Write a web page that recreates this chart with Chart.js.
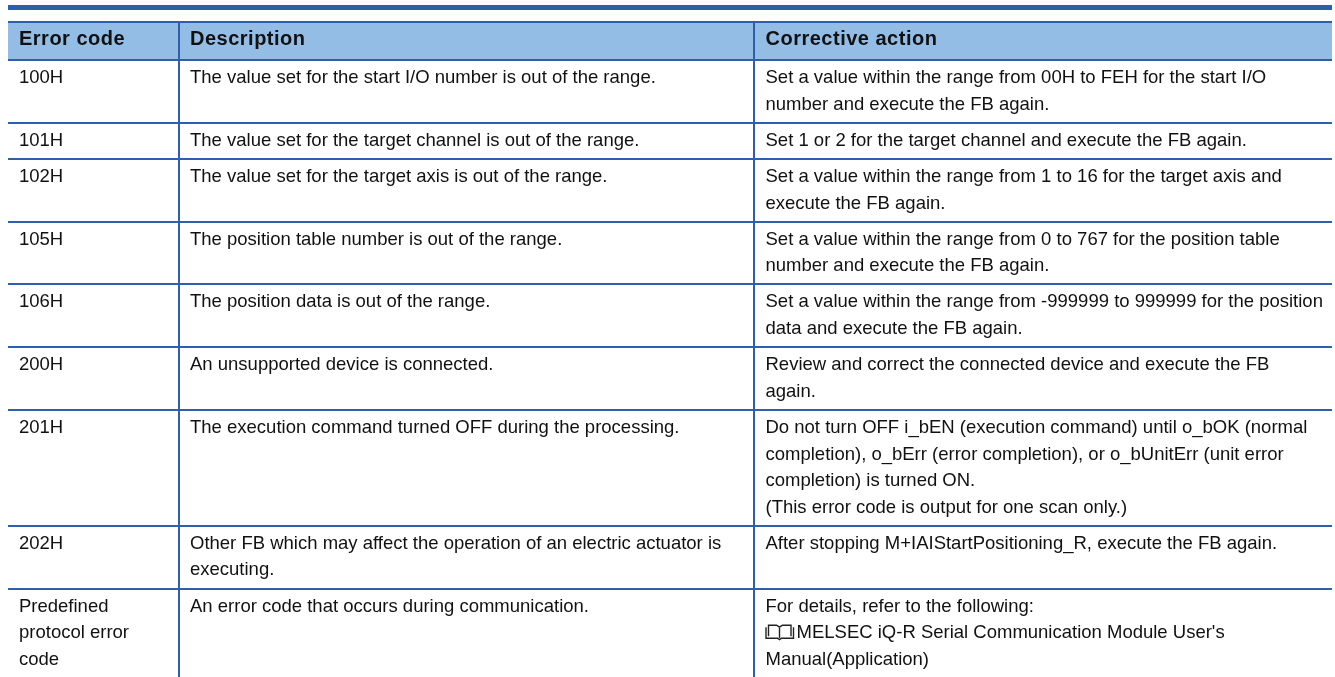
<!DOCTYPE html>
<html>
<head>
<meta charset="utf-8">
<title>Error codes</title>
<script src="https://cdn.jsdelivr.net/npm/chart.js@4/dist/chart.umd.min.js"></script>
<style>
  html, body { margin: 0; padding: 0; background: #fff; overflow: hidden; }
  canvas { display: block; }
</style>
</head>
<body>
<canvas id="errorTable" width="1335" height="677"></canvas>
<script>
// table content, one inner array per text line
const headers = ['Error code', 'Description', 'Corrective action'];
const errorCodes = [
    ['100H'], ['101H'], ['102H'], ['105H'], ['106H'], ['200H'], ['201H'], ['202H'],
    ['Predefined', 'protocol error', 'code']
];
const descriptions = [
    ['The value set for the start I/O number is out of the range.'],
    ['The value set for the target channel is out of the range.'],
    ['The value set for the target axis is out of the range.'],
    ['The position table number is out of the range.'],
    ['The position data is out of the range.'],
    ['An unsupported device is connected.'],
    ['The execution command turned OFF during the processing.'],
    ['Other FB which may affect the operation of an electric actuator is', 'executing.'],
    ['An error code that occurs during communication.']
];
const actions = [
    ['Set a value within the range from 00H to FEH for the start I/O', 'number and execute the FB again.'],
    ['Set 1 or 2 for the target channel and execute the FB again.'],
    ['Set a value within the range from 1 to 16 for the target axis and', 'execute the FB again.'],
    ['Set a value within the range from 0 to 767 for the position table', 'number and execute the FB again.'],
    ['Set a value within the range from -999999 to 999999 for the position', 'data and execute the FB again.'],
    ['Review and correct the connected device and execute the FB', 'again.'],
    ['Do not turn OFF i_bEN (execution command) until o_bOK (normal', 'completion), o_bErr (error completion), or o_bUnitErr (unit error', 'completion) is turned ON.', '(This error code is output for one scan only.)'],
    ['After stopping M+IAIStartPositioning_R, execute the FB again.'],
    ['For details, refer to the following:', 'MELSEC iQ-R Serial Communication Module User\'s', 'Manual(Application)']
];

const columns = [errorCodes, descriptions, actions];

// the manual reference line starts with a small book icon
const bookRow = 8;
const bookLine = 1;
const BOOK_WIDTH = 31;

// axis breaks in page pixels
const tableLeft = 8;
const tableRight = 1332;
const tableBottom = 677;
const bandY = 7.5;
const headerTop = 22;
const headerBottom = 60;
const columnRules = [179, 754];
const textX = [19, 190, 765.5];

const RULE_COLOR = '#2e5fac';
const HEADER_COLOR = '#93bde4';
const TEXT_COLOR = '#111111';
const LINE_PITCH = 26.6;
const ROW_PAD = 9.55;

// row edges follow from how many text lines each row holds
function getRowEdges() {
    const edges = [headerBottom];
    let y = headerBottom;
    errorCodes.forEach((code, i) => {
        const lineCount = Math.max(code.length, descriptions[i].length, actions[i].length);
        y += ROW_PAD + lineCount * LINE_PITCH;
        edges.push(y);
    });
    return edges;
}

const rowEdges = getRowEdges();

function ruleDataset(points, width, color) {
    return {
        data: points,
        showLine: true,
        pointRadius: 0,
        borderWidth: width,
        borderColor: color,
        fill: false,
        order: 0
    };
}

const datasets = [];

// header background, order 1 keeps it behind the rules
datasets.push({
    data: [{ x: tableLeft, y: headerTop }, { x: tableRight, y: headerTop }],
    showLine: true,
    pointRadius: 0,
    borderWidth: 0,
    backgroundColor: HEADER_COLOR,
    fill: { value: headerBottom },
    order: 1
});

// thick band at the top
datasets.push(ruleDataset([{ x: tableLeft, y: bandY }, { x: tableRight, y: bandY }], 5, RULE_COLOR));

datasets.push(ruleDataset([{ x: tableLeft, y: headerTop }, { x: tableRight, y: headerTop }], 2, RULE_COLOR));

rowEdges.slice(0, -1).forEach(edge => {
    const y = Math.round(edge);
    datasets.push(ruleDataset([{ x: tableLeft, y: y }, { x: tableRight, y: y }], 2, RULE_COLOR));
});

columnRules.forEach(x => {
    datasets.push(ruleDataset([{ x: x, y: headerTop }, { x: x, y: tableBottom }], 2, RULE_COLOR));
});

/**
 * Writes the header and cell text, and the little manual icon, at scale positions.
 */
const tableTextPlugin = {
    id: 'tableText',
    afterDatasetsDraw(chart) {
        const { ctx, scales } = chart;
        const xScale = scales.x;
        const yScale = scales.y;
        ctx.save();
        ctx.fillStyle = TEXT_COLOR;
        ctx.textBaseline = 'alphabetic';
        ctx.textAlign = 'left';

        // header glyphs are no taller than the body text but run wider
        ctx.font = 'bold 20px "Liberation Sans", Arial, sans-serif';
        ctx.letterSpacing = '0.5px';
        headers.forEach((label, c) => {
            ctx.fillText(label, xScale.getPixelForValue(textX[c]), yScale.getPixelForValue(45));
        });
        ctx.letterSpacing = '0px';

        ctx.font = '18.5px "Liberation Sans", Arial, sans-serif';
        columns.forEach((column, c) => {
            column.forEach((lines, r) => {
                lines.forEach((line, l) => {
                    const y = rowEdges[r] + 23 + l * LINE_PITCH;
                    const hasBook = c === 2 && r === bookRow && l === bookLine;
                    const x = textX[c] + (hasBook ? BOOK_WIDTH : 0);
                    ctx.fillText(line, xScale.getPixelForValue(x), yScale.getPixelForValue(y));
                });
            });
        });

        drawBookIcon(ctx, xScale.getPixelForValue(textX[2]), yScale.getPixelForValue(rowEdges[bookRow] + 23 + bookLine * LINE_PITCH));
        ctx.restore();
    }
};

function drawBookIcon(ctx, x, baseline) {
    ctx.strokeStyle = '#222222';
    ctx.lineWidth = 1.4;
    ctx.beginPath();
    // outer cover
    ctx.moveTo(x + 0.5, baseline - 11);
    ctx.lineTo(x + 0.5, baseline);
    ctx.lineTo(x + 12, baseline);
    ctx.lineTo(x + 14, baseline + 1.5);
    ctx.lineTo(x + 16, baseline);
    ctx.lineTo(x + 28, baseline);
    ctx.lineTo(x + 28, baseline - 11);
    // open pages
    ctx.moveTo(x + 3, baseline - 2);
    ctx.lineTo(x + 3, baseline - 13);
    ctx.lineTo(x + 11, baseline - 13);
    ctx.lineTo(x + 14, baseline - 11);
    ctx.lineTo(x + 17, baseline - 13);
    ctx.lineTo(x + 25.5, baseline - 13);
    ctx.lineTo(x + 25.5, baseline - 2);
    ctx.moveTo(x + 14, baseline - 11);
    ctx.lineTo(x + 14, baseline);
    ctx.stroke();
}

new Chart(document.getElementById('errorTable').getContext('2d'), {
    type: 'scatter',
    data: { datasets: datasets },
    plugins: [tableTextPlugin],
    options: {
        responsive: false,
        animation: false,
        layout: { padding: 0 },
        scales: {
            x: { type: 'linear', display: false, min: 0, max: 1335 },
            y: { type: 'linear', display: false, reverse: true, min: 0, max: 677 }
        },
        plugins: { legend: { display: false }, tooltip: { enabled: false } }
    }
});
</script>
</body>
</html>
